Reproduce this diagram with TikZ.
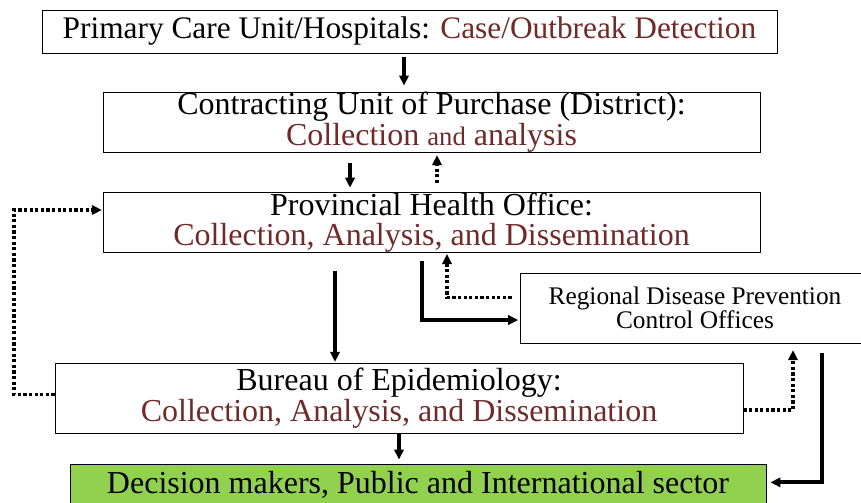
\documentclass[tikz,border=0pt]{standalone}
\usepackage{fontspec}
\setmainfont{Liberation Serif}
\usepackage{xcolor}
\usetikzlibrary{arrows.meta}
\definecolor{darkbrown}{RGB}{112,42,42}
\definecolor{leafgreen}{RGB}{146,208,80}

\begin{document}
\begin{tikzpicture}[x=0.75pt,y=-0.75pt,
  box/.style={draw=black,line width=0.7pt,align=center,inner sep=0pt,font=\fontsize{24}{21}\selectfont},
  solidarr/.style={-{Triangle[length=7.5pt,width=7pt]},line width=2.8pt},
  dotarr/.style={-{Triangle[length=7.5pt,width=7pt]},line width=2.6pt,dash pattern=on 2.4pt off 1.8pt}]
\useasboundingbox (0,0) rectangle (861,503);
%\draw[red] (0,0) rectangle (861,503);
\node[box,minimum width=551.25pt,minimum height=32.25pt,font=\fontsize{23.5}{21}\selectfont] (phc) at (409.5,31.5)
  {Primary Care Unit/Hospitals: \textcolor{darkbrown}{Case/Outbreak Detection}};
\node[box,minimum width=492.75pt,minimum height=45pt] (cup) at (431.5,122)
  {Contracting Unit of Purchase (District):\\
   \textcolor{darkbrown}{Collection {\fontsize{20}{21}\selectfont and} analysis}};
\node[box,minimum width=492.75pt,minimum height=41.25pt,font=\fontsize{24}{22.5}\selectfont] (pho) at (431.5,222.5)
  {Provincial Health Office:\\ \textcolor{darkbrown}{Collection, Analysis, and Dissemination}};
\node[box,minimum width=262.5pt,minimum height=52.5pt,font=\fontsize{19}{16.5}\selectfont] (rdpc) at (695,308)
  {Regional Disease Prevention\\ Control Offices};
\node[box,minimum width=516pt,minimum height=52.5pt] (boe) at (399,398)
  {Bureau of Epidemiology:\\ \textcolor{darkbrown}{Collection, Analysis, and Dissemination}};
\node[box,fill=leafgreen,minimum width=522pt,minimum height=31.5pt] (dm) at (418,485)
  {Decision makers, Public and International sector};

\coordinate (xa) at (404,0);
\coordinate (xb) at (350,0);
\coordinate (xc) at (437,0);
\coordinate (xd) at (335,0);
\coordinate (xe) at (422,0);
\coordinate (xf) at (447,0);
\coordinate (loopL) at (14,210);
\coordinate (xh) at (793,0);
\coordinate (xi) at (822,0);

\draw[solidarr,shorten <=3pt,shorten >=4.5pt] (phc.south -| xa) -- (cup.north -| xa);
\draw[solidarr,shorten <=8pt,shorten >=3.5pt] (cup.south -| xb) -- (pho.north -| xb);
\draw[dotarr,shorten <=7pt,shorten >=2pt] (pho.north -| xc) -- (cup.south -| xc);
\draw[solidarr,shorten <=13.5pt,shorten >=0.5pt] (pho.south -| xd) -- (boe.north -| xd);
\draw[solidarr,shorten <=6pt,shorten >=1pt] (pho.south -| xe) |- ([yshift=-9pt]rdpc.west);
\draw[dotarr,shorten <=6pt,shorten >=1pt] ([yshift=8pt]rdpc.west) -| (pho.south -| xf);
\draw[dotarr,shorten >=0.5pt] ([yshift=2.5pt]boe.west) -| (loopL) -- (pho.west |- loopL);
\draw[dotarr,shorten >=5pt] ([yshift=-9pt]boe.east) -| (rdpc.south -| xh);
\draw[solidarr,shorten <=7pt,shorten >=3pt] (rdpc.south -| xi) |- ([yshift=2pt]dm.east);
\draw[solidarr,shorten >=3pt] (boe.south) -- (dm.north -| boe.south);
\end{tikzpicture}
\end{document}
